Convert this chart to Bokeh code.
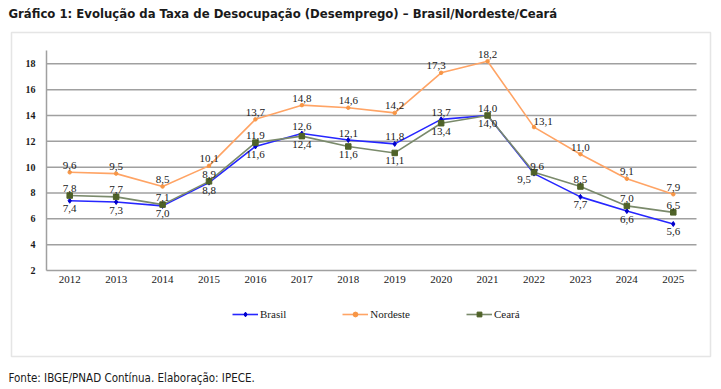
from bokeh.plotting import figure
from bokeh.models import Label, BoxAnnotation, Legend, LegendItem, ColumnDataSource, FixedTicker, Range1d
from bokeh.core.properties import value
from bokeh.embed import file_html
from bokeh.resources import INLINE

# ---- data ----
years = list(range(2012, 2026))
brasil = [7.4, 7.3, 7.0, 8.8, 11.6, 12.6, 12.1, 11.8, 13.7, 14.0, 9.5, 7.7, 6.6, 5.6]
nordeste = [9.6, 9.5, 8.5, 10.1, 13.7, 14.8, 14.6, 14.2, 17.3, 18.2, 13.1, 11.0, 9.1, 7.9]
ceara = [7.8, 7.7, 7.1, 8.9, 11.9, 12.4, 11.6, 11.1, 13.4, 14.0, 9.6, 8.5, 7.0, 6.5]
y_ticks = [2, 4, 6, 8, 10, 12, 14, 16, 18]
series_names = ["Brasil", "Nordeste", "Ceará"]

# ---- layout (pixels, style only) ----
W, H = 721, 389
AX_X0, AX_X1 = 46, 696        # plot area left/right in px
AX_Y2, AX_Y18 = 270, 63.3     # px of value 2 and 18
X0, X1 = 2011.5, 2025.5       # plot area in data units
Y0, YTOP = 2, 19.03
sx = (AX_X1 - AX_X0) / (X1 - X0)
sy = (AX_Y2 - AX_Y18) / 16.0
x_range = Range1d(X0 - AX_X0 / sx, X0 + (W - AX_X0) / sx)
y_range = Range1d(Y0 - (H - AX_Y2) / sy, Y0 + AX_Y2 / sy)

# label placement (style, not data)
brasil_pos = ["b", "b", "b", "b", "b", "a", "a", "a", "a", "a", "bl", "b", "b", "b"]
nordeste_pos = ["a", "a", "a", "a", "a", "a", "a", "a", "al", "a", "ar", "a", "a", "a"]
ceara_pos = ["a", "a", "a", "a", "a", "b", "b", "b", "b", "b", "ar2", "a", "a", "a"]
OFFS = {"a": (0, -7), "b": (0, 8), "bl": (-10, 6), "ar": (9, -6), "ar2": (3, -6), "al": (-5, -7)}

SERIF = "Liberation Serif"
SANS = "DejaVu Sans Condensed"
GRID = "#a0a0a0"

p = figure(width=W, height=H, output_backend="svg", toolbar_location=None,
           x_range=x_range, y_range=y_range, min_border=0)
p.outline_line_color = None
p.background_fill_color = "white"
p.border_fill_color = "white"
p.xgrid.visible = False
p.ygrid.visible = False

# axes fixed inside the frame
xa, ya = p.xaxis[0], p.yaxis[0]
xa.fixed_location = Y0
ya.fixed_location = X0
xa.ticker = FixedTicker(ticks=years)
ya.ticker = FixedTicker(ticks=y_ticks)
xa.bounds = (X0, X1)
ya.bounds = (Y0, YTOP)
for ax in (xa, ya):
    ax.major_tick_line_color = None
    ax.minor_tick_line_color = None
    ax.major_tick_out = 0
    ax.major_tick_in = 0
    ax.major_label_text_font = SERIF
    ax.major_label_text_font_size = "11px"
    ax.major_label_text_color = "#1a1a1a"
xa.axis_line_color = None
xa.major_label_standoff = 5
ya.axis_line_color = GRID
ya.axis_line_width = 1.5
ya.major_label_standoff = 11
ya.major_label_text_font_style = "bold"
ya.major_label_text_font_size = "10px"

# horizontal grid lines at the tick values
p.segment(x0=[X0] * len(y_ticks), x1=[X1] * len(y_ticks), y0=y_ticks, y1=y_ticks,
          line_color=GRID, line_width=1.5)

styles = {
    "Brasil": dict(line="#2626ff", marker="diamond", mcolor="#0000cc", msize=5),
    "Nordeste": dict(line="#ffa465", marker="circle", mcolor="#f79646", msize=3.5),
    "Ceará": dict(line="#7a8a6b", marker="square", mcolor="#4f6228", msize=5.5),
}

items = []
for name, vals, pos in zip(series_names, [brasil, nordeste, ceara], [brasil_pos, nordeste_pos, ceara_pos]):
    st = styles[name]
    src = ColumnDataSource(dict(
        x=years, y=vals,
        lbl=[f"{v:.1f}".replace(".", ",") for v in vals],
        xo=[OFFS[k][0] for k in pos], yo=[OFFS[k][1] for k in pos],
    ))
    ln = p.line("x", "y", source=src, line_color=st["line"], line_width=1.6)
    sc = p.scatter("x", "y", source=src, marker=st["marker"], size=st["msize"],
                   fill_color=st["mcolor"], line_color=st["mcolor"])
    p.text("x", "y", text="lbl", source=src, x_offset="xo", y_offset="yo",
           text_font=value(SERIF), text_font_size="11px", text_color="#1a1a1a",
           text_align="center", text_baseline="middle")
    items.append(LegendItem(label=name, renderers=[ln, sc]))

legend = Legend(items=items, orientation="horizontal", location=(232, H - 320),
                label_text_font=SERIF, label_text_font_size="11px",
                label_text_color="#1a1a1a", glyph_width=26, glyph_height=12,
                label_height=12, label_standoff=2, spacing=56, padding=0, margin=0,
                border_line_color=None, background_fill_alpha=0)
p.add_layout(legend, "center")

# outer box round the chart
p.add_layout(BoxAnnotation(left=11, right=710, top=H - 32, bottom=H - 356,
                           left_units="screen", right_units="screen",
                           top_units="screen", bottom_units="screen",
                           fill_alpha=0, line_color="#a8a8a8", line_width=1.5))

p.add_layout(Label(x=8, y=H - 12.5, x_units="screen", y_units="screen",
                   text="Gráfico 1: Evolução da Taxa de Desocupação (Desemprego) – Brasil/Nordeste/Ceará",
                   text_font=SANS, text_font_style="bold", text_font_size="13px",
                   text_color="#1a1a1a", text_baseline="middle"))
p.add_layout(Label(x=8, y=H - 377, x_units="screen", y_units="screen",
                   text="Fonte: IBGE/PNAD Contínua. Elaboração: IPECE.",
                   text_font=SANS, text_font_size="11.5px",
                   text_color="#1a1a1a", text_baseline="middle"))

open("out.html", "w").write(file_html(p, INLINE))
